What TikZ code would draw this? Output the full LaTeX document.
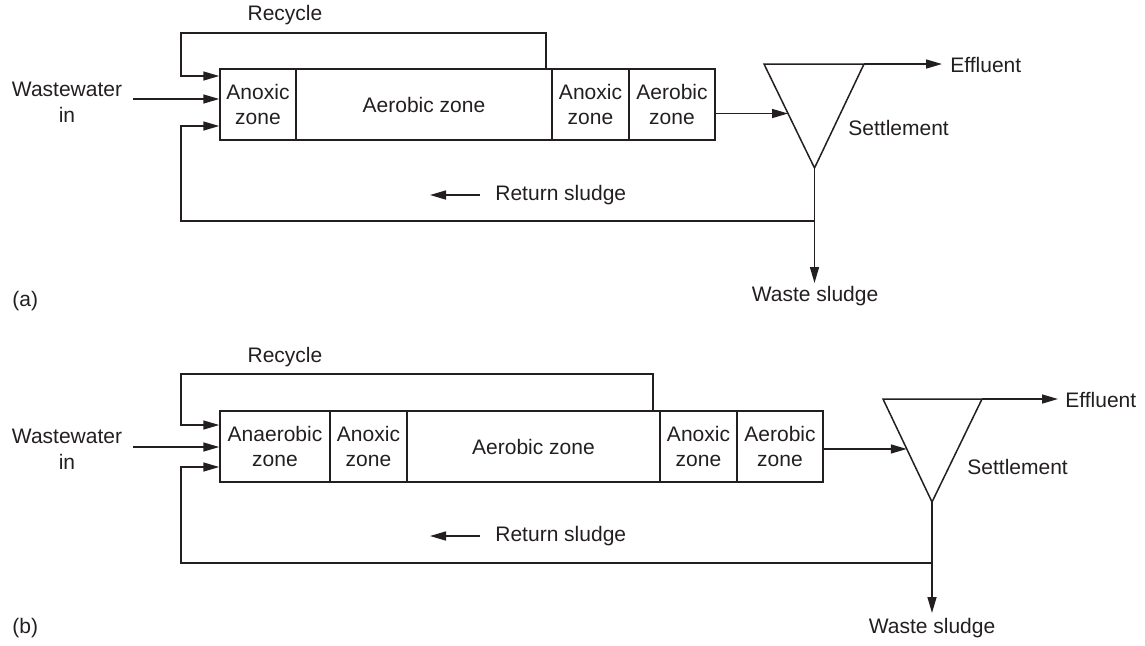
\documentclass[tikz,border=0pt]{standalone}
\usepackage{fontspec}
\setmainfont{Liberation Sans}
\usetikzlibrary{arrows.meta,calc}
\definecolor{ink}{RGB}{35,31,32}
\begin{document}
\begin{tikzpicture}[x=0.5pt,y=-0.5pt,
  line/.style={draw=ink,line width=0.75pt},
  arr/.style={line,-{Triangle[length=8pt,width=4.5pt]}},
  zonebox/.style={draw=ink,line width=0.75pt,minimum height=35.5pt,inner sep=0pt,align=center,
    text=ink,font=\fontsize{10.5}{12.5}\selectfont},
  lbl/.style={inner sep=0pt,text=ink,align=center,font=\fontsize{10.5}{13}\selectfont},
]
\useasboundingbox (0,0) rectangle (1145,645);

% ---------------- (a) ----------------
\node[zonebox,minimum width=38pt]   (a1) at (258,104.5)   {Anoxic\\zone};
\node[zonebox,minimum width=128pt]  (a2) at (424,104.5)   {Aerobic zone};
\node[zonebox,minimum width=38.5pt] (a3) at (590.5,104.5) {Anoxic\\zone};
\node[zonebox,minimum width=43pt]   (a4) at (672,104.5)   {Aerobic\\zone};

\node[lbl] (reca) at (285,15) {Recycle};
\node[lbl] (wwa) at (67,102) {Wastewater\\in};
\node[lbl,anchor=west] (seta) at (848,128) {Settlement};
\node[lbl,anchor=west] (effa) at (950,65) {Effluent};
\node[lbl,anchor=west] (rsa) at (495,195) {Return sludge};
\node[lbl,anchor=north] (wsa) at (815,286) {Waste sludge};
\node[lbl,anchor=west] (laba) at (12,301) {(a)};

\coordinate (tla) at (764,64);
\coordinate (tra) at (864,64);
\coordinate (apa) at (814.5,168);
\draw[line] (tla) -- (tra) -- (apa) -- cycle;
\coordinate (ina) at ($(tla)!0.476!(apa)$);

\draw[arr] (a2.north -| 546,0) |- (181,33) |- (a1.west |- 0,76);
\draw[arr] (133,99) -- (a1.west |- 0,99);
\draw[arr] (apa |- 0,221) -| (181,126) -- (a1.west |- 0,126);
\draw[arr] (apa) -- (apa |- 0,283);
\draw[arr] (a4.east |- ina) -- (ina);
\draw[arr] (tra) -- (tra -| 942,0);
\coordinate (rsat) at (430,195);
\draw[arr] (480,195) -- (rsat);

% ---------------- (b) ----------------
\node[zonebox,minimum width=55pt]    (b1) at (275,446.5)   {Anaerobic\\zone};
\node[zonebox,minimum width=38.5pt]  (b2) at (368.5,446.5) {Anoxic\\zone};
\node[zonebox,minimum width=126.5pt] (b3) at (533.5,446.5) {Aerobic zone};
\node[zonebox,minimum width=38.5pt]  (b4) at (698.5,446.5) {Anoxic\\zone};
\node[zonebox,minimum width=43pt]    (b5) at (780,446.5)   {Aerobic\\zone};

\node[lbl] (recb) at (285,357) {Recycle};
\node[lbl] (wwb) at (67,449) {Wastewater\\in};
\node[lbl,anchor=west] (setb) at (967,467) {Settlement};
\node[lbl,anchor=west] (effb) at (1065,400) {Effluent};
\node[lbl,anchor=west] (rsb) at (495,536) {Return sludge};
\node[lbl,anchor=north] (wsb) at (932,618) {Waste sludge};
\node[lbl,anchor=west] (labb) at (12,628) {(b)};

\coordinate (tlb) at (883,399);
\coordinate (trb) at (982,399);
\coordinate (apb) at (932,502);
\draw[line] (tlb) -- (trb) -- (apb) -- cycle;
\coordinate (inb) at ($(tlb)!0.485!(apb)$);

\draw[arr] (b3.north -| 653,0) |- (181,374) |- (b1.west |- 0,425);
\draw[arr] (133,447) -- (b1.west |- 0,447);
\draw[arr] (apb |- 0,563) -| (181,467) -- (b1.west |- 0,467);
\draw[arr] (apb) -- (apb |- 0,613);
\draw[arr] (b5.east |- inb) -- (inb);
\draw[arr] (trb) -- (trb -| 1058,0);
\coordinate (rsbt) at (430,536);
\draw[arr] (480,536) -- (rsbt);
\end{tikzpicture}
\end{document}
